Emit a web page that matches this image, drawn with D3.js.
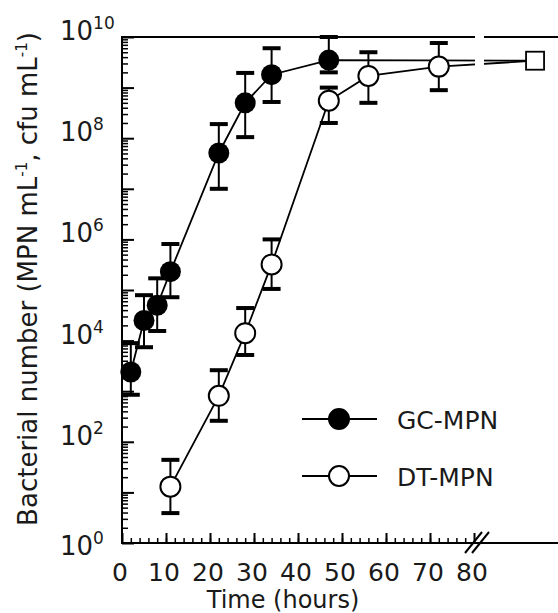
<!DOCTYPE html>
<html lang="en">
  <head>
    <meta charset="utf-8">
    <title>bacterial growth</title>
    <script src="https://d3js.org/d3.v7.min.js"></script>
    <style type="text/css">
      body { margin: 0; background: #fff; }
      text {
        font-family: "DejaVu Sans", Verdana, sans-serif;
        fill: #1a1a1a;
      }
      .tickLabel { font-size: 25px; }
      .axisTitle { font-size: 24px; }
      .legendText { font-size: 25px; }
      .frame { stroke: #000; stroke-width: 2; fill: none; }
      .line { fill: none; stroke: #000; stroke-width: 1.8; }
      .whisker { stroke: #000; stroke-width: 2; }
      .cap { stroke: #000; stroke-width: 4; }
    </style>
  </head>
  <body>
    <svg id="chart" width="558" height="613"></svg>
    <script type="text/javascript">
      // GC-MPN (filled circles)
      var gcTime = [2, 5, 8, 11, 22, 28, 34, 47];
      var gcValue = [2.4e3, 2.5e4, 5.0e4, 2.3e5, 5.1e7, 5.0e8, 1.8e9, 3.5e9];
      var gcHigh = [8.9e3, 7.9e4, 1.7e5, 8.1e5, 1.9e8, 1.95e9, 6.0e9, 1.0e10];
      var gcLow = [8.5e2, 7.4e3, 1.55e4, 7.2e4, 1.0e7, 1.05e8, 5.2e8, 2.0e9];

      // DT-MPN (open circles)
      var dtTime = [11, 22, 28, 34, 47, 56, 72];
      var dtValue = [13, 8.1e2, 1.4e4, 3.2e5, 5.5e8, 1.7e9, 2.6e9];
      var dtHigh = [44, 2.6e3, 4.4e4, 1.0e6, 1.0e9, 5.0e9, 7.6e9];
      var dtLow = [3.9, 2.6e2, 5.2e3, 1.05e5, 2.0e8, 5.0e8, 8.9e8];

      // last sample, drawn after the axis break (square)
      var endPosition = 0.69;
      var endValue = 3.4e9;

      var xTicks = [0, 10, 20, 30, 40, 50, 60, 70, 80];
      var yExponents = [0, 2, 4, 6, 8, 10];
      var legendNames = ["GC-MPN", "DT-MPN"];

      var svg = d3.select("#chart"),
        margin = {top: 37, left: 122, bottom: 70},
        height = +svg.attr("height") - margin.top - margin.bottom,
        breakLeft = 474, breakRight = 484, right = 558;

      var x = d3.scaleLinear().domain([0, 80]).range([margin.left, breakLeft]);
      var xEnd = d3.scaleLinear().domain([0, 1]).range([breakRight, right]);
      var y = d3.scaleLog().domain([1, 1e10]).range([margin.top + height, margin.top]);
      var yBottom = y(1);

      var gc = gcTime.map(function(t, i) {
        return {t: t, v: gcValue[i], hi: gcHigh[i], lo: gcLow[i]};
      });
      var dt = dtTime.map(function(t, i) {
        return {t: t, v: dtValue[i], hi: dtHigh[i], lo: dtLow[i]};
      });

      // y axis: major ticks every decade, minor 2..9, all pointing inward
      var majorY = d3.range(0, 11).map(function(e) { return Math.pow(10, e); });
      var minorY = [];
      for (var e = 0; e < 10; e++) {
        for (var m = 2; m < 10; m++) minorY.push(m * Math.pow(10, e));
      }
      svg.append("g")
        .attr("transform", "translate(" + margin.left + ",0)")
        .call(d3.axisRight(y).tickValues(majorY).tickSize(12).tickFormat(""))
        .call(function(g) {
          g.select(".domain").remove();
          g.selectAll("line").attr("stroke", "#000").attr("stroke-width", 2);
        });
      svg.append("g")
        .attr("transform", "translate(" + margin.left + ",0)")
        .call(d3.axisRight(y).tickValues(minorY).tickSize(6).tickFormat(""))
        .call(function(g) {
          g.select(".domain").remove();
          g.selectAll("line").attr("stroke", "#000").attr("stroke-width", 1.5);
        });

      // x axis: major every 10 h, minor every 2 h, pointing up
      svg.append("g")
        .attr("transform", "translate(0," + yBottom + ")")
        .call(d3.axisTop(x).tickValues(xTicks).tickSize(10).tickFormat(""))
        .call(function(g) {
          g.select(".domain").remove();
          g.selectAll("line").attr("stroke", "#000").attr("stroke-width", 2);
        });
      svg.append("g")
        .attr("transform", "translate(0," + yBottom + ")")
        .call(d3.axisTop(x).tickValues(d3.range(2, 80, 2)).tickSize(5).tickFormat(""))
        .call(function(g) {
          g.select(".domain").remove();
          g.selectAll("line").attr("stroke", "#000").attr("stroke-width", 1.5);
        });

      // frame lines: left, bottom, top
      svg.append("line").attr("class", "frame")
        .attr("x1", margin.left).attr("x2", margin.left)
        .attr("y1", margin.top - 1).attr("y2", yBottom + 1);
      svg.append("line").attr("class", "frame")
        .attr("x1", margin.left - 1).attr("x2", right)
        .attr("y1", yBottom).attr("y2", yBottom);
      svg.append("line").attr("class", "frame")
        .attr("x1", margin.left - 1).attr("x2", right)
        .attr("y1", margin.top).attr("y2", margin.top);

      // tick labels
      svg.selectAll(".xLabel")
        .data(xTicks)
        .enter().append("text")
        .attr("class", "tickLabel")
        .attr("x", function(d) { return x(d) - 2; })
        .attr("y", yBottom + 38)
        .style("text-anchor", "middle")
        .text(function(d) { return d; });

      var yLabel = svg.selectAll(".yLabel")
        .data(yExponents)
        .enter().append("text")
        .attr("class", "tickLabel")
        .style("font-size", "26px")
        .attr("x", 60)
        .attr("y", function(d) { return y(Math.pow(10, d)) + (d === 0 ? 12 : 3); });
      yLabel.append("tspan").text("10");
      yLabel.append("tspan")
        .attr("dy", -11)
        .style("font-size", "17px")
        .text(function(d) { return d; });

      // axis titles
      svg.append("text")
        .attr("class", "axisTitle")
        .attr("x", 283)
        .attr("y", 608)
        .style("text-anchor", "middle")
        .text("Time (hours)");

      var yTitle = svg.append("text")
        .attr("class", "axisTitle")
        .attr("transform", "translate(37,279) rotate(-90)")
        .style("text-anchor", "middle")
        .style("font-size", "26px");
      yTitle.append("tspan").text("Bacterial number (MPN mL");
      yTitle.append("tspan").attr("dy", -10).style("font-size", "15px").text("-1");
      yTitle.append("tspan").attr("dy", 10).text(",  cfu mL");
      yTitle.append("tspan").attr("dy", -10).style("font-size", "15px").text("-1");
      yTitle.append("tspan").attr("dy", 10).text(")");

      // series lines
      var line = d3.line()
        .x(function(d) { return x(d.t); })
        .y(function(d) { return y(d.v); });

      var endPoint = [xEnd(endPosition), y(endValue)];

      svg.append("path").datum(gc).attr("class", "line")
        .attr("d", function(d) { return line(d) + "L" + endPoint.join(","); });
      svg.append("path").datum(dt).attr("class", "line")
        .attr("d", function(d) { return line(d) + "L" + endPoint.join(","); });

      // error bars
      function errorBars(data) {
        var g = svg.append("g");
        g.selectAll(".whisker").data(data).enter().append("line")
          .attr("class", "whisker")
          .attr("x1", function(d) { return x(d.t); })
          .attr("x2", function(d) { return x(d.t); })
          .attr("y1", function(d) { return y(d.hi); })
          .attr("y2", function(d) { return y(d.lo); });
        ["hi", "lo"].forEach(function(k) {
          g.selectAll(".cap-" + k).data(data).enter().append("line")
            .attr("class", "cap")
            .attr("x1", function(d) { return x(d.t) - 9; })
            .attr("x2", function(d) { return x(d.t) + 9; })
            .attr("y1", function(d) { return y(d[k]); })
            .attr("y2", function(d) { return y(d[k]); });
        });
      }
      errorBars(dt);
      errorBars(gc);

      // markers
      svg.selectAll(".dtDot").data(dt).enter().append("circle")
        .attr("cx", function(d) { return x(d.t); })
        .attr("cy", function(d) { return y(d.v); })
        .attr("r", 10)
        .attr("fill", "#fff").attr("stroke", "#000").attr("stroke-width", 2);
      svg.selectAll(".gcDot").data(gc).enter().append("circle")
        .attr("cx", function(d) { return x(d.t); })
        .attr("cy", function(d) { return y(d.v); })
        .attr("r", 10.5)
        .attr("fill", "#000");

      svg.append("rect")
        .attr("x", endPoint[0] - 9).attr("y", endPoint[1] - 9)
        .attr("width", 18).attr("height", 18)
        .attr("fill", "#fff").attr("stroke", "#000").attr("stroke-width", 1.8);

      // axis break: white gap at the top, slashes on the bottom axis
      svg.append("rect")
        .attr("x", breakLeft + 1).attr("y", margin.top - 5)
        .attr("width", breakRight - breakLeft - 1).attr("height", 45)
        .attr("fill", "#fff");
      [0, 7].forEach(function(off) {
        svg.append("line")
          .attr("x1", breakLeft - 9 + off).attr("y1", yBottom + 10)
          .attr("x2", breakLeft + 8 + off).attr("y2", yBottom - 11)
          .attr("stroke", "#000").attr("stroke-width", 2);
      });

      // legend
      var legend = svg.selectAll(".legend")
        .data(legendNames)
        .enter().append("g")
        .attr("transform", function(d, i) { return "translate(302," + (419 + i * 57) + ")"; });
      legend.append("line")
        .attr("x1", 0).attr("x2", 75)
        .attr("stroke", "#000").attr("stroke-width", 1.8);
      legend.append("circle")
        .attr("cx", 37).attr("r", 10)
        .attr("fill", function(d, i) { return i === 0 ? "#000" : "#fff"; })
        .attr("stroke", "#000").attr("stroke-width", 2);
      legend.append("text")
        .attr("class", "legendText")
        .attr("x", 95).attr("y", 10)
        .text(function(d) { return d; });
    </script>
  </body>
</html>
